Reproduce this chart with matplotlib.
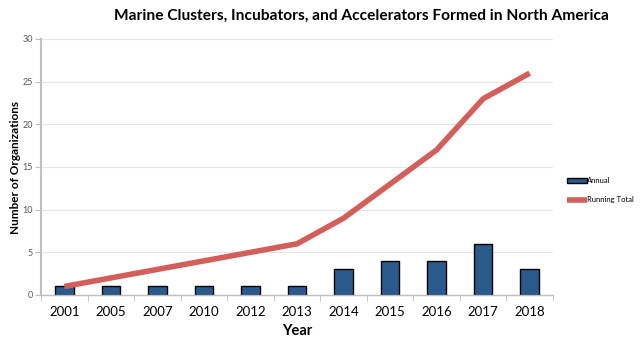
import numpy as np
import matplotlib.pyplot as plt

plt.rcParams['font.family'] = ['Lato', 'DejaVu Sans']

years = ['2001', '2005', '2007', '2010', '2012', '2013', '2014', '2015', '2016', '2017', '2018']
annual = [1, 1, 1, 1, 1, 1, 3, 4, 4, 6, 3]
running_total = [1, 2, 3, 4, 5, 6, 9, 13, 17, 23, 26]

fig = plt.figure(figsize=(6.4, 3.51), dpi=100)
ax = fig.add_axes([41 / 640, 56 / 351, 512 / 640, 256 / 351])

x = np.arange(len(years))
bars = ax.bar(x, annual, width=0.4, color='#2a5a8c', edgecolor='black', linewidth=1.0,
              label='Annual', zorder=2)
line, = ax.plot(x, running_total, color='#d35f5a', linewidth=4, solid_capstyle='butt',
                label='Running Total', zorder=3)

ax.set_xlim(-0.5, len(years) - 0.5)
ax.set_ylim(0, 30)
ax.set_yticks(range(0, 31, 5))
ax.set_xticks(x)
ax.set_xticklabels(years, fontsize=9.5)
ax.set_xticks(np.arange(-0.5, len(years), 1), minor=True)
ax.tick_params(axis='x', which='major', length=0, pad=8)
ax.tick_params(axis='x', which='minor', length=4, color='#bfbfbf')
ax.tick_params(axis='y', labelsize=6.5, colors='#595959', length=4, color='#bfbfbf', pad=2)
ax.grid(axis='y', color='#e6e6e6', linewidth=0.8, zorder=0)

for side in ['top', 'right']:
    ax.spines[side].set_visible(False)
ax.spines['left'].set_color('#bfbfbf')
ax.spines['bottom'].set_color('#bfbfbf')
ax.spines['left'].set_linewidth(1.5)
ax.spines['bottom'].set_linewidth(1.0)

ax.set_xlabel('Year', fontsize=10.5, fontweight='bold', labelpad=4)
ax.set_ylabel('Number of Organizations', fontsize=8.5, fontweight='bold')
ax.yaxis.set_label_coords(-20 / 512, 0.5)
fig.suptitle('Marine Clusters, Incubators, and Accelerators Formed in North America',
             fontsize=11.2, fontweight='bold', x=361 / 640, y=0.975)

fig.legend([bars, line], ['Annual', 'Running Total'], loc='center left',
           bbox_to_anchor=(560 / 640, 1 - 190 / 351), frameon=False,
           fontsize=5.5, handlelength=2.6, handleheight=0.6, handletextpad=0.05,
           labelspacing=1.6)

fig.savefig('out.png', dpi=100)
